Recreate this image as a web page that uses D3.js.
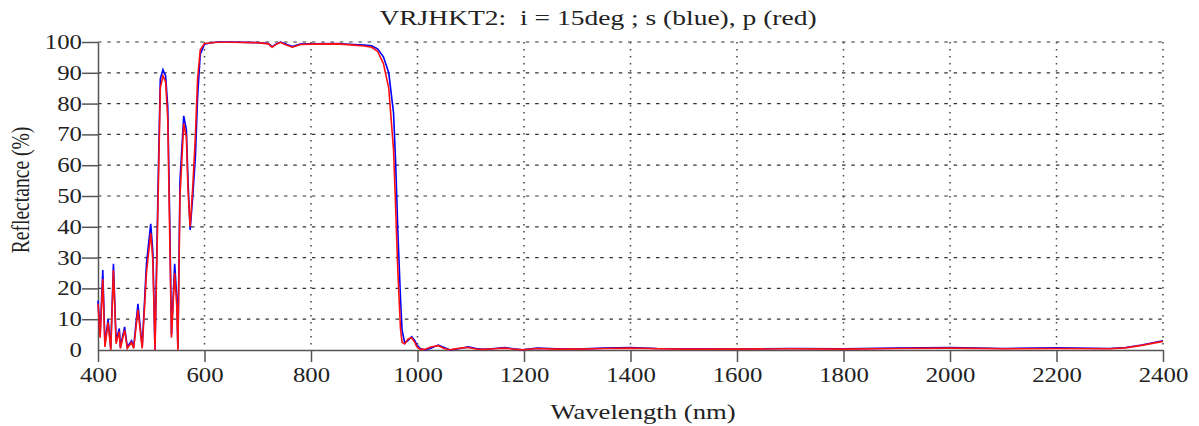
<!DOCTYPE html>
<html>
<head>
<meta charset="utf-8">
<script src="https://cdn.jsdelivr.net/npm/d3@7/dist/d3.min.js"></script>
<style>
	body { margin: 0; background: #fff; }
	svg { display: block; }
	text { font-family: "Liberation Serif", "Times New Roman", serif; fill: #222; }
</style>
</head>
<body>
<svg width="1199" height="426"></svg>
<script>
// wavelength grid (nm), shared by both series
const wavelength = [400, 404, 409, 413, 419, 424, 429, 434, 440, 442, 450, 455, 463, 467, 475, 483, 491, 499, 503, 507,
	513, 517, 522, 527, 531, 535, 538, 544, 548, 550, 554, 561, 566, 569, 573, 578, 583, 587, 592, 600,
	610, 624, 650, 700, 720, 727, 735, 743, 750, 765, 780, 800, 850, 880, 900, 914, 925, 936, 946, 955,
	959, 963, 968, 971, 976, 982, 989, 995, 999, 1005, 1014, 1025, 1039, 1050, 1061, 1080, 1095, 1110, 1123, 1145,
	1164, 1180, 1197, 1225, 1260, 1300, 1350, 1400, 1450, 1500, 1600, 1700, 1800, 1900, 2000, 2100, 2200, 2300, 2330, 2360, 2400];

// s-polarisation (blue)
const sRefl = [16, 5, 26, 2, 10, 0.5, 28, 3, 7, 1, 7.5, 1, 3, 1, 15, 1, 28, 41, 32, 0,
	55, 88, 91, 89, 79, 39, 5, 28, 17, 0.5, 55, 76, 71.5, 55, 39, 50, 63, 82, 96, 99.3,
	99.7, 100, 100, 99.8, 99.5, 98.5, 99.4, 100, 99.5, 98.5, 99.3, 99.4, 99.5, 99.2, 99, 98.8, 97.8, 95.2, 90, 77,
	60.6, 39, 17, 6.5, 2.3, 3, 4.3, 3, 1.6, 0.5, 0, 0.6, 1.6, 0.8, 0, 0.5, 1, 0.5, 0.2, 0.5,
	0.8, 0.4, 0.1, 0.6, 0.4, 0.3, 0.6, 0.8, 0.5, 0.4, 0.3, 0.5, 0.4, 0.6, 0.8, 0.5, 0.7, 0.5, 0.8, 1.6, 3];

// p-polarisation (red)
const pRefl = [15, 4, 23, 1, 9, 0, 26, 2, 6, 0.5, 6.5, 0.5, 2.5, 0.5, 13, 0.5, 25, 38, 29, 0,
	50, 85, 89, 87, 75, 34, 4, 25, 14, 0, 50, 73.5, 69, 52, 40, 53, 70, 88, 97.5, 99.5,
	99.7, 99.9, 99.9, 99.8, 99.4, 98.3, 99.3, 99.9, 99.3, 98.3, 99.2, 99.3, 99.4, 99, 98.7, 98.3, 97, 93, 85, 65,
	46, 26, 7, 2.5, 2, 3.5, 4, 2.5, 1, 0.2, 0.2, 1, 1.4, 0.5, 0.1, 0.6, 0.8, 0.3, 0.2, 0.4,
	0.6, 0.3, 0.1, 0.5, 0.3, 0.3, 0.5, 0.6, 0.4, 0.3, 0.3, 0.4, 0.3, 0.5, 0.6, 0.4, 0.5, 0.4, 0.7, 1.5, 2.8];

const xTicks = [400, 600, 800, 1000, 1200, 1400, 1600, 1800, 2000, 2200, 2400];
const yTicks = [0, 10, 20, 30, 40, 50, 60, 70, 80, 90, 100];

const titleText = "VRJHKT2:\u00a0 i = 15deg ; s (blue), p (red)";

// the original image is stretched sideways
const tickStretch = 1.24;
const labelStretch = 1.29;

let svg = d3.select("svg"),
	margin = {top: 42, right: 36, bottom: 76, left: 98},
	width = +svg.attr("width") - margin.left - margin.right,
	height = +svg.attr("height") - margin.top - margin.bottom;

let x = d3.scaleLinear().domain([400, 2400]).range([0, width]);
let y = d3.scaleLinear().domain([0, 100]).range([height, 0]);

let g = svg.append("g").attr("transform", "translate(" + margin.left + "," + margin.top + ")");

// grid: horizontal dashed, vertical dotted
g.append("g").selectAll("line")
	.data(yTicks.filter(d => d > 0))
	.enter().append("line")
	.attr("x1", 0).attr("x2", width)
	.attr("y1", d => y(d)).attr("y2", d => y(d))
	.attr("stroke", "#333")
	.attr("stroke-width", 1.2)
	.attr("stroke-dasharray", "3.5,5.8");

g.append("g").selectAll("line")
	.data(xTicks.filter(d => d > 400))
	.enter().append("line")
	.attr("x1", d => x(d)).attr("x2", d => x(d))
	.attr("y1", 0).attr("y2", height)
	.attr("stroke", "#444")
	.attr("stroke-width", 1.5)
	.attr("stroke-dasharray", "1.5,5.5");

// axes
let xAxis = g.append("g")
	.attr("transform", "translate(0," + height + ")")
	.call(d3.axisBottom(x).tickValues(xTicks).tickFormat(d3.format("d")).tickSize(12).tickSizeOuter(0));
let yAxis = g.append("g")
	.call(d3.axisLeft(y).tickValues(yTicks).tickSize(16).tickSizeOuter(0));

[xAxis, yAxis].forEach(a => {
	a.select(".domain").attr("stroke", "#555").attr("stroke-width", 1.5);
	a.selectAll(".tick line").attr("stroke", "#555").attr("stroke-width", 1.5);
	a.selectAll("text")
		.style("font-family", "'Liberation Serif', 'Times New Roman', serif")
		.style("font-size", "20px")
		.attr("fill", "#222");
});
xAxis.selectAll("text").attr("y", 32).attr("dy", 0)
	.attr("transform", "scale(" + tickStretch + ",1)");
yAxis.selectAll("text").attr("x", -16 / tickStretch)
	.attr("transform", "scale(" + tickStretch + ",1)");
yAxis.selectAll(".tick").filter(d => d === 0).select("line").remove();

// curves
let line = d3.line()
	.x((d, i) => x(wavelength[i]))
	.y(d => y(d));

g.append("path")
	.datum(sRefl)
	.attr("fill", "none")
	.attr("stroke", "#0000ff")
	.attr("stroke-width", 1.6)
	.attr("d", line);

g.append("path")
	.datum(pRefl)
	.attr("fill", "none")
	.attr("stroke", "#ff1010")
	.attr("stroke-width", 1.6)
	.attr("d", line);

// labels
svg.append("text")
	.attr("transform", "translate(598,25) scale(" + (labelStretch + 0.02) + ",1)")
	.attr("text-anchor", "middle")
	.style("font-size", "21px")
	.text(titleText);

svg.append("text")
	.attr("transform", "translate(643,419) scale(" + (labelStretch - 0.02) + ",1)")
	.attr("text-anchor", "middle")
	.style("font-size", "21px")
	.text("Wavelength (nm)");

svg.append("text")
	.attr("transform", "translate(29,190) rotate(-90) scale(1," + labelStretch + ")")
	.attr("text-anchor", "middle")
	.style("font-size", "19.6px")
	.text("Reflectance (%)");
</script>
</body>
</html>
